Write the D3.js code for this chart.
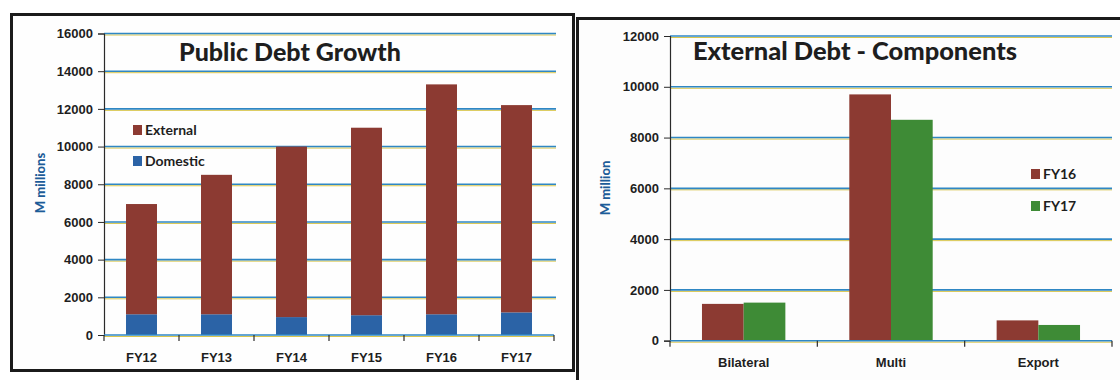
<!DOCTYPE html>
<html><head><meta charset="utf-8">
<script src="https://cdn.jsdelivr.net/npm/d3@7"></script>
<style>
html,body{margin:0;padding:0;background:#fff;}
svg{display:block;font-family:Lato,"Open Sans",sans-serif;}
</style></head>
<body>
<svg id="c" width="1120" height="380"></svg>
<script>
// ---- data ----
const years = ["FY12","FY13","FY14","FY15","FY16","FY17"];
const domestic = [1100,1100,950,1050,1100,1200];
const external = [5850,7400,9050,9950,12200,11000];
const leftTicks = [0,2000,4000,6000,8000,10000,12000,14000,16000];

const components = ["Bilateral","Multi","Export"];
const fy16 = [1450,9700,800];
const fy17 = [1500,8700,620];
const rightTicks = [0,2000,4000,6000,8000,10000,12000];

const C_EXT = "#8c3a32", C_DOM = "#2b63a6", C_G = "#3e8b36";
const GRID = "#2f87c4", GRID2 = "#d9c64e", TXT = "#1e1e1e", YT = "#1d5c98";

const svg = d3.select("#c");
svg.append("rect").attr("width",1120).attr("height",380).attr("fill","#fff");

// panel frames
svg.append("rect").attr("x",11.5).attr("y",14.5).attr("width",562).attr("height",356)
  .attr("fill","#fefefe").attr("stroke","#1b1b1b").attr("stroke-width",3);
svg.append("rect").attr("x",577.5).attr("y",18.5).attr("width",560).attr("height",380)
  .attr("fill","#fdfdfd").attr("stroke","#1b1b1b").attr("stroke-width",3);

function gridlines(g, y, ticks, x0, x1){
  ticks.forEach(t=>{
    if(t===0) return;
    g.append("line").attr("x1",x0).attr("x2",x1).attr("y1",y(t)+1.5).attr("y2",y(t)+1.5)
      .attr("stroke",GRID2).attr("stroke-width",1);
    g.append("line").attr("x1",x0).attr("x2",x1).attr("y1",y(t)).attr("y2",y(t))
      .attr("stroke",GRID).attr("stroke-width",1.6);
  });
}

function axes(g, x, y, ticks, labelY){
  const [x0,x1] = x.range();
  const ya = g.append("g").attr("transform",`translate(${x0},0)`)
    .call(d3.axisLeft(y).tickValues(ticks).tickSize(6).tickPadding(5).tickFormat(d3.format("d")));
  ya.select(".domain").attr("stroke","#2a2a2a").attr("stroke-width",1.2);
  ya.selectAll(".tick line").attr("stroke","#2a2a2a");
  ya.selectAll("text").attr("fill",TXT).attr("font-size",13).attr("font-weight",700);
  const y0 = y(0);
  g.append("line").attr("x1",x0).attr("x2",x1).attr("y1",y0+1.5).attr("y2",y0+1.5)
    .attr("stroke",GRID2).attr("stroke-width",1);
  g.append("line").attr("x1",x0).attr("x2",x1).attr("y1",y0).attr("y2",y0)
    .attr("stroke",GRID).attr("stroke-width",1.6);
  const n = x.domain().length;
  for(let i=0;i<=n;i++){
    const xx = x0 + (x1-x0)*i/n;
    g.append("line").attr("x1",xx).attr("x2",xx).attr("y1",y0).attr("y2",y0+6)
      .attr("stroke","#2a2a2a").attr("stroke-width",1.2);
  }
  const xa = g.append("g").attr("transform",`translate(0,${labelY})`)
    .call(d3.axisBottom(x).tickSize(0).tickPadding(0));
  xa.select(".domain").remove();
  xa.selectAll("text").attr("fill",TXT).attr("font-size",13).attr("font-weight",700).attr("dy","0");
}

// ---- left chart ----
{
  const g = svg.append("g");
  const x = d3.scaleBand().domain(years).range([104,554]).paddingInner(0.587).paddingOuter(0.2935);
  const y = d3.scaleLinear().domain([0,16000]).range([335,33.5]);
  gridlines(g, y, leftTicks, 104, 556);
  const rows = years.map((k,i)=>({k, dom:domestic[i], ext:external[i]}));
  const stack = d3.stack().keys(["dom","ext"])(rows);
  const col = {dom:C_DOM, ext:C_EXT};
  stack.forEach(s=>{
    g.selectAll(null).data(s).enter().append("rect")
      .attr("x",d=>x(d.data.k)).attr("width",x.bandwidth())
      .attr("y",d=>y(d[1])).attr("height",d=>y(d[0])-y(d[1]))
      .attr("fill",col[s.key]);
  });
  axes(g, x, y, leftTicks, 362);
  g.append("text").attr("x",290).attr("y",61).attr("text-anchor","middle")
    .attr("font-size",24).attr("font-weight",900).attr("fill",TXT)
    .attr("textLength",222).attr("lengthAdjust","spacingAndGlyphs").text("Public Debt Growth");
  g.append("text").attr("transform","translate(45,183) rotate(-90)").attr("text-anchor","middle")
    .attr("font-size",13).attr("font-weight",900).attr("fill",YT).text("M millions");
  const leg = [["External",C_EXT,125],["Domestic",C_DOM,156]];
  leg.forEach(([t,c,yy])=>{
    g.append("rect").attr("x",133).attr("y",yy).attr("width",9).attr("height",10).attr("fill",c);
    g.append("text").attr("x",145).attr("y",yy+10).attr("font-size",14).attr("font-weight",700)
      .attr("fill",TXT).text(t);
  });
}

// ---- right chart ----
{
  const g = svg.append("g");
  const x = d3.scaleBand().domain(components).range([670,1112]).paddingInner(0.434).paddingOuter(0.217);
  const x1 = d3.scaleBand().domain(["FY16","FY17"]).range([0,x.bandwidth()]);
  const y = d3.scaleLinear().domain([0,12000]).range([340.7,36]);
  gridlines(g, y, rightTicks, 670, 1112);
  const rows = components.map((k,i)=>({k, v:[["FY16",fy16[i],C_EXT],["FY17",fy17[i],C_G]]}));
  rows.forEach(r=>{
    g.selectAll(null).data(r.v).enter().append("rect")
      .attr("x",d=>x(r.k)+x1(d[0])).attr("width",x1.bandwidth())
      .attr("y",d=>y(d[1])).attr("height",d=>y(0)-y(d[1])).attr("fill",d=>d[2]);
  });
  axes(g, x, y, rightTicks, 367);
  g.append("text").attr("x",693).attr("y",60).attr("text-anchor","start")
    .attr("font-size",24).attr("font-weight",900).attr("fill",TXT)
    .attr("textLength",324).attr("lengthAdjust","spacingAndGlyphs").text("External Debt - Components");
  g.append("text").attr("transform","translate(610,188) rotate(-90)").attr("text-anchor","middle")
    .attr("font-size",13).attr("font-weight",900).attr("fill",YT).text("M million");
  const leg = [["FY16",C_EXT,169],["FY17",C_G,201]];
  leg.forEach(([t,c,yy])=>{
    g.append("rect").attr("x",1031).attr("y",yy).attr("width",9).attr("height",10).attr("fill",c);
    g.append("text").attr("x",1043).attr("y",yy+10).attr("font-size",14).attr("font-weight",700)
      .attr("fill",TXT).text(t);
  });
}
</script>
</body></html>
